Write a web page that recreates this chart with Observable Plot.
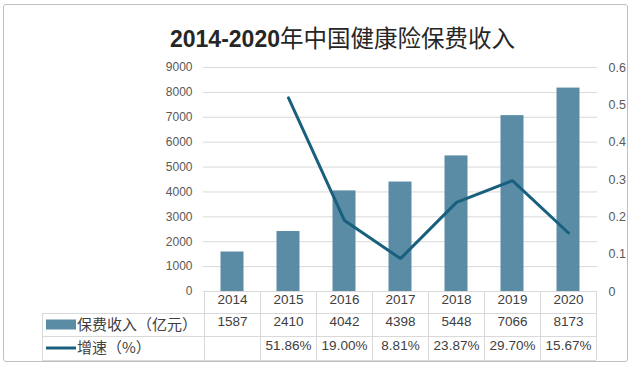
<!DOCTYPE html>
<html>
<head>
<meta charset="utf-8">
<script src="https://cdn.jsdelivr.net/npm/d3@7"></script>
<script src="https://cdn.jsdelivr.net/npm/@observablehq/plot@0.6"></script>
<style>
  body { margin: 0; background: #fff; }
  #wrap { position: relative; width: 632px; height: 367px; overflow: hidden; background: #fff; }
  #border { position: absolute; left: 3px; top: 4px; width: 623px; height: 356px; border: 1px solid #bfbfbf; border-radius: 3px; }
  #title { position: absolute; left: 170px; top: 22px; white-space: nowrap; color: #262626; line-height: 30px; }
  #title .num { font-family: 'Liberation Sans', sans-serif; font-weight: bold; font-size: 23px; }
  #title .cjk { font-family: 'Noto Sans CJK SC', sans-serif; font-weight: 400; font-size: 23.5px; }
  #chart { position: absolute; left: 0; top: 50px; }
</style>
</head>
<body>
<div id="wrap">
  <div id="border"></div>
  <div id="title"><span class="num">2014-2020</span><span class="cjk">年中国健康险保费收入</span></div>
  <div id="chart"></div>
</div>
<script>
const years = ["2014", "2015", "2016", "2017", "2018", "2019", "2020"];
const revenue = [1587, 2410, 4042, 4398, 5448, 7066, 8173];
const growth = [null, 0.5186, 0.1900, 0.0881, 0.2387, 0.2970, 0.1567];
const leftTicks = [0, 1000, 2000, 3000, 4000, 5000, 6000, 7000, 8000, 9000];
const rightTicks = [0, 0.1, 0.2, 0.3, 0.4, 0.5, 0.6];
const seriesNames = ["保费收入（亿元）", "增速（%）"];

const barColor = "#5b8ca6";
const lineColor = "#18607d";
const ratio = 9000 / 0.6;

const rows = years.map((y, i) => ({year: y, revenue: revenue[i], growth: growth[i]}));
const growthRows = rows.filter(d => d.growth != null);

const W = 632, H = 317;
const plot = Plot.plot({
  width: W,
  height: H,
  marginTop: 17,
  marginBottom: 76,
  marginLeft: 203,
  marginRight: 35,
  style: {fontFamily: "'Liberation Sans', 'Noto Sans CJK SC', sans-serif", fontSize: "12px", color: "#595959", background: "transparent", overflow: "visible"},
  x: {type: "band", domain: years, paddingInner: 0, paddingOuter: 0, axis: null},
  y: {domain: [0, 9000], axis: null},
  marks: [
    Plot.gridY(leftTicks, {stroke: "#d9d9d9", strokeOpacity: 1}),
    Plot.axisY(leftTicks, {anchor: "left", tickSize: 0, tickPadding: 11, label: null, tickFormat: d => String(d), fontSize: 12, fill: "#595959"}),
    Plot.axisY(rightTicks.map(v => v * ratio), {anchor: "right", tickSize: 0, tickPadding: 11, label: null,
      tickFormat: d => { const v = d / ratio; return v === 0 ? "0" : v.toFixed(1); }, fontSize: 12.5, fill: "#595959"}),
    Plot.barY(rows, {x: "year", y: "revenue", fill: barColor, insetLeft: 16.5, insetRight: 16.5}),
    Plot.lineY(growthRows, {x: "year", y: d => d.growth * ratio, stroke: lineColor, strokeWidth: 3, strokeLinejoin: "miter"}),
    Plot.text(rows, {x: "year", text: "year", frameAnchor: "bottom", dy: 12, fontSize: 13.5, fill: "#404040"}),
    Plot.text(rows, {x: "year", text: d => String(d.revenue), frameAnchor: "bottom", dy: 34, fontSize: 13.5, fill: "#404040"}),
    Plot.text(growthRows, {x: "year", text: d => (d.growth * 100).toFixed(2) + "%", frameAnchor: "bottom", dy: 58, fontSize: 13.5, fill: "#404040"})
  ]
});
document.getElementById("chart").appendChild(plot);

// table grid & legend keys, positioned from Plot's own x scale
const xs = plot.scale("x");
const bw = xs.bandwidth;
const x0 = xs.apply(years[0]);
const x1 = xs.apply(years[years.length - 1]) + bw;
const yTop = H - 76;           // frame bottom
const rowY = [yTop, yTop + 22, yTop + 45, yTop + 69];
const tableLeft = 42;
const svg = d3.select(plot);
const g = svg.append("g").attr("stroke", "#d9d9d9").attr("stroke-width", 1).attr("shape-rendering", "crispEdges");
g.append("line").attr("x1", x0).attr("x2", x1).attr("y1", rowY[0] + 0.5).attr("y2", rowY[0] + 0.5);
for (let k = 1; k < rowY.length; k++) {
  g.append("line").attr("x1", tableLeft).attr("x2", x1).attr("y1", rowY[k] + 0.5).attr("y2", rowY[k] + 0.5);
}
g.append("line").attr("x1", tableLeft + 0.5).attr("x2", tableLeft + 0.5).attr("y1", rowY[1]).attr("y2", rowY[3]);
years.forEach(y => {
  const xx = Math.round(xs.apply(y)) + 0.5;
  g.append("line").attr("x1", xx).attr("x2", xx).attr("y1", rowY[0]).attr("y2", rowY[3]);
});
g.append("line").attr("x1", Math.round(x1) + 0.5).attr("x2", Math.round(x1) + 0.5).attr("y1", rowY[0]).attr("y2", rowY[3]);

const lg = svg.append("g").attr("font-family", "'Noto Sans CJK SC', sans-serif").attr("font-size", 15).attr("fill", "#404040").attr("text-anchor", "start");
const r1 = (rowY[1] + rowY[2]) / 2, r2 = (rowY[2] + rowY[3]) / 2;
lg.append("rect").attr("x", 46).attr("y", r1 - 5).attr("width", 30).attr("height", 10).attr("fill", barColor);
lg.append("line").attr("x1", 46).attr("x2", 76).attr("y1", r2).attr("y2", r2).attr("stroke", lineColor).attr("stroke-width", 3);
lg.append("text").attr("x", 77).attr("y", r1).attr("dy", "0.35em").attr("text-anchor", "start").text(seriesNames[0]);
lg.append("text").attr("x", 77).attr("y", r2).attr("dy", "0.35em").attr("text-anchor", "start").text(seriesNames[1]);
</script>
</body>
</html>
